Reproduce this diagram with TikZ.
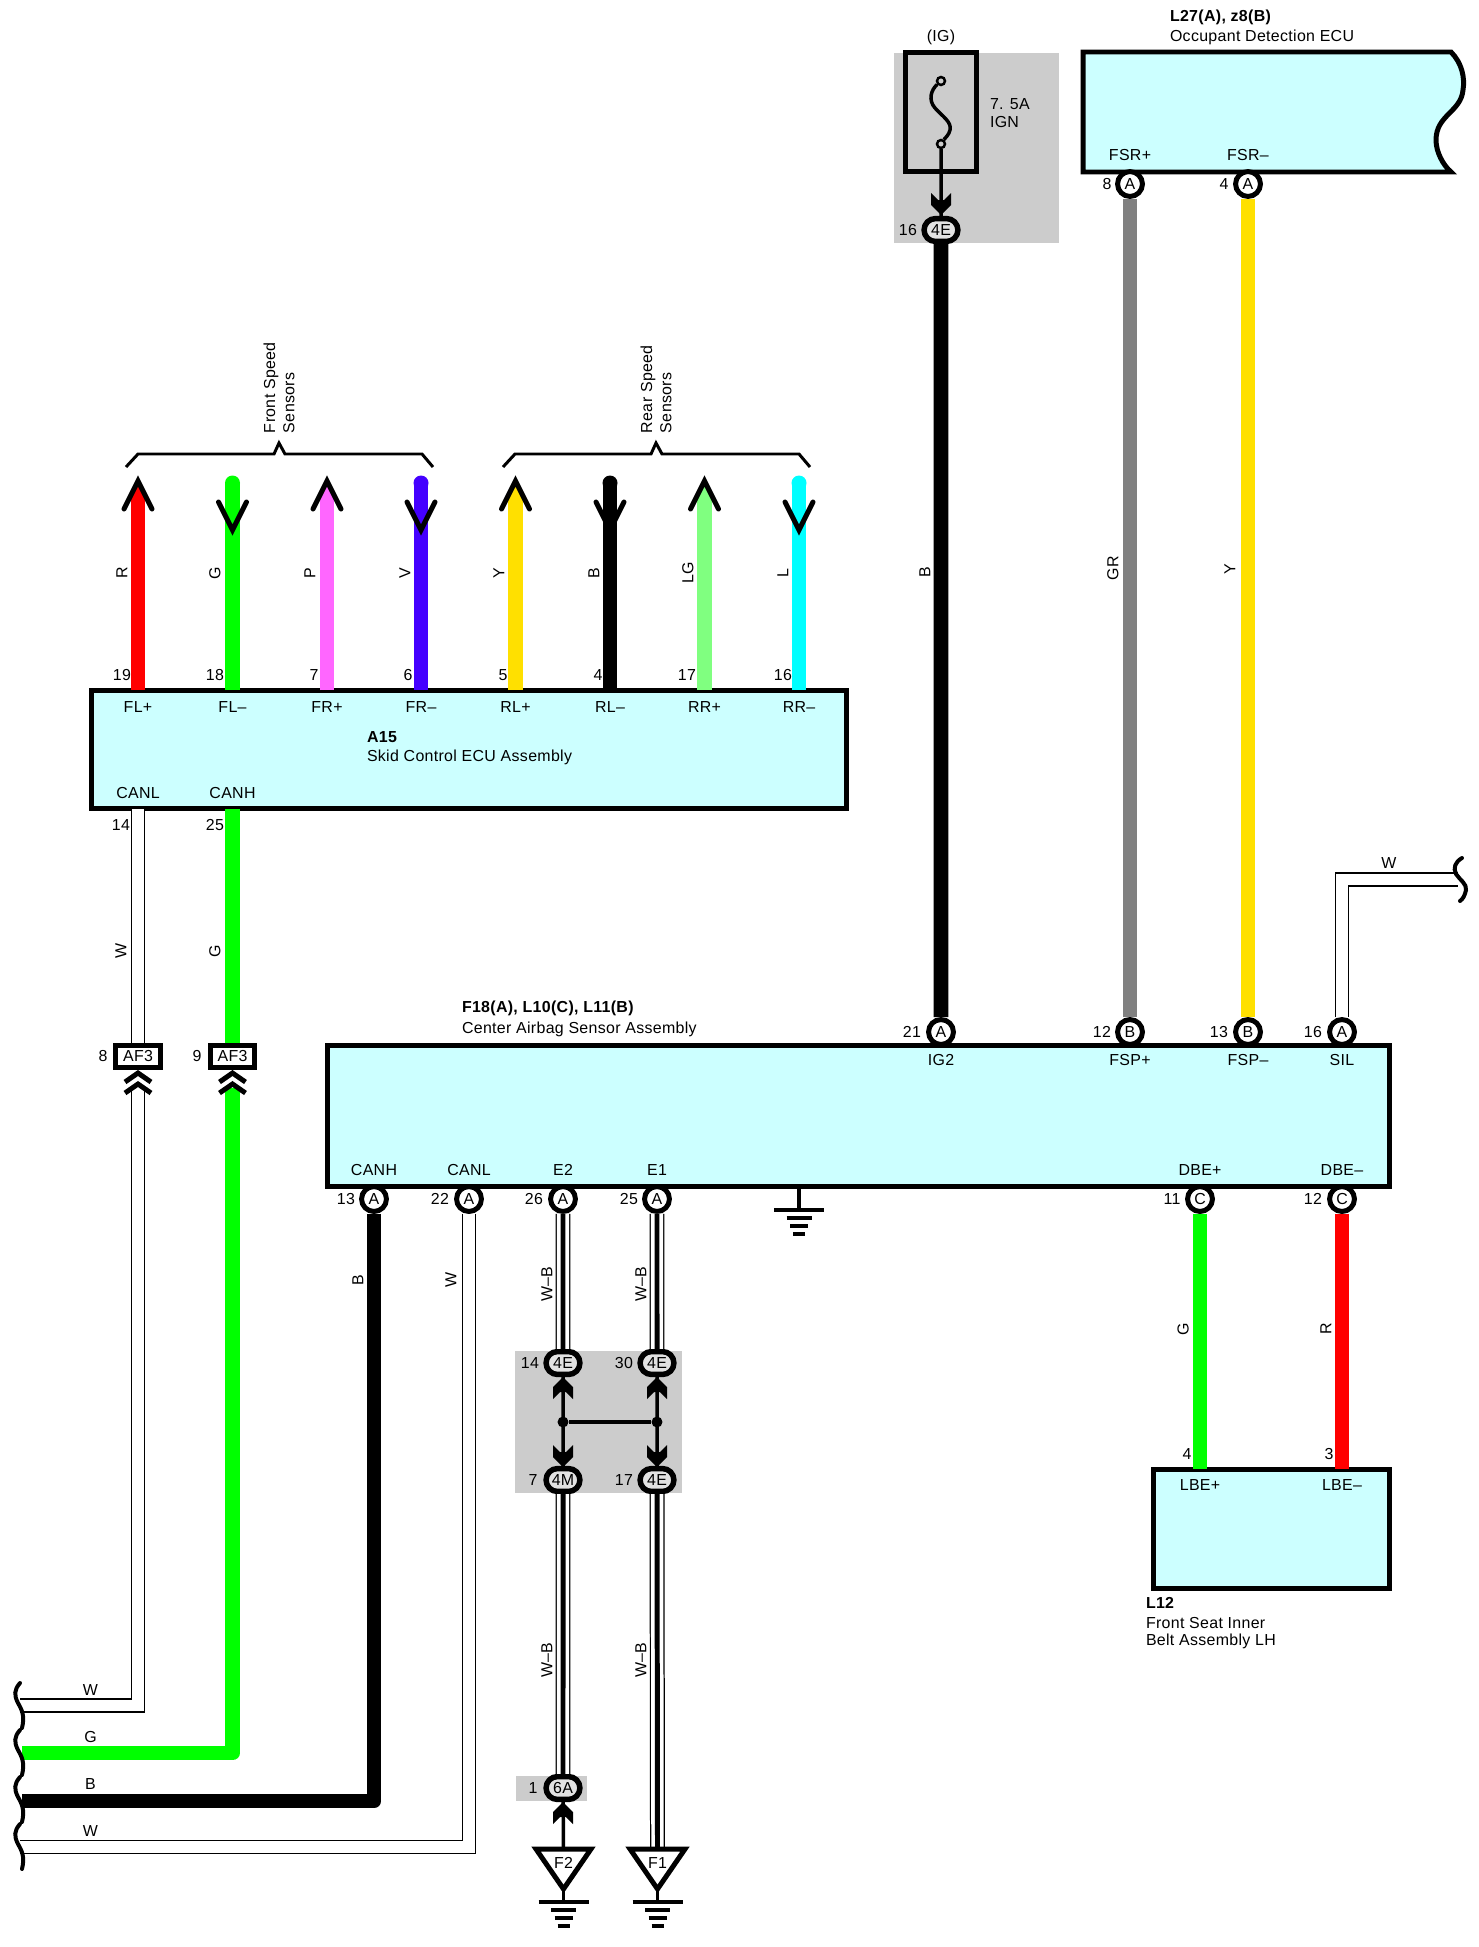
\documentclass[tikz,border=0pt]{standalone}
\usepackage{fontspec}
\setmainfont[LetterSpace=2]{Liberation Sans}
\usetikzlibrary{shapes.misc}

\newcommand{\px}{0.5669pt}
\newcommand{\lab}{\fontsize{9.07}{10.2}\selectfont}

\definecolor{wred}{HTML}{FF0000}
\definecolor{wgreen}{HTML}{00FF00}
\definecolor{wpink}{HTML}{FF66FF}
\definecolor{wviolet}{HTML}{4400FF}
\definecolor{wyellow}{HTML}{FFE000}
\definecolor{wlgreen}{HTML}{80FF80}
\definecolor{wcyan}{HTML}{00FFFF}
\definecolor{wgray}{HTML}{808080}
\definecolor{ecufill}{HTML}{CCFFFF}
\definecolor{areagray}{HTML}{CCCCCC}
\definecolor{ovalfill}{HTML}{E2E2E2}

\tikzset{
  txt/.style={inner sep=0pt,outer sep=0pt},
  wirelab/.style={txt,rotate=90},
  wire/.style={line width=15*\px,line join=round},
  wirew/.style={white,line width=12*\px,preaction={draw=black,line width=14.5*\px}},
  wirewb/.style={black,line width=5*\px,preaction={draw=black,line width=15*\px},preaction={draw=white,line width=12.5*\px}},
  thinw/.style={black,line width=3.5*\px},
  ecubox/.style={draw,fill=ecufill,line width=5*\px,inner sep=0pt},
  pinc/.style={circle,draw,fill=white,line width=5*\px,minimum size=25*\px,inner sep=0pt},
  oval/.style={rounded rectangle,draw,fill=ovalfill,line width=5.5*\px,minimum width=34*\px,minimum height=23*\px,inner sep=0pt},
  dot/.style={circle,fill=black,minimum size=11*\px,inner sep=0pt},
  brace/.style={line width=3*\px,line join=miter},
  squiggle/.style={line width=4*\px,line cap=round},
  % sensor ends
  sensout/.pic={
    \fill[pic actions] (-7.5,16) -- (0,0) -- (7.5,16) -- cycle;
    \draw[line width=5*\px,line cap=round,line join=miter] (-14,28) -- (0,0) -- (14,28);
  },
  sensin/.pic={
    \fill[pic actions] (0,0) circle (7.5);
    \draw[line width=5*\px,line cap=round,line join=miter] (-14,19) -- (0,47) -- (14,19);
  },
  % connector ends
  plugdn/.pic={\fill (0,0) -- (-10,-10) -- (-10,-22) -- (-3,-15) -- (3,-15) -- (10,-22) -- (10,-10) -- cycle;},
  plugup/.pic={\fill (0,0) -- (-10,10) -- (-10,22) -- (-3,15) -- (3,15) -- (10,22) -- (10,10) -- cycle;},
  dblchev/.pic={
    \draw[line width=5*\px] (-13,9) -- (0,0) -- (13,9);
    \draw[line width=5*\px] (-13,20) -- (0,11) -- (13,20);
  },
  gndbars/.pic={
    \draw[line width=3.5*\px] (-25,0) -- (25,0);
    \draw[line width=3.5*\px] (-12.5,8) -- (12.5,8);
    \draw[line width=3.5*\px] (-9,16) -- (9,16);
    \draw[line width=3.5*\px] (-6,24) -- (6,24);
  },
  wavecut/.pic={
    \draw[squiggle] (0,0) .. controls (-6,7) and (-6,12) .. (-2,20) .. controls (2,27) and (5,33) .. (2,45);
  },
}

\begin{document}
\begin{tikzpicture}[x=0.02cm,y=-0.02cm,font=\lab]
\useasboundingbox (0,0) rectangle (1479,1947);

% shaded areas
\fill[areagray] (894,53) rectangle (1059,243);
\fill[areagray] (515,1351) rectangle (682,1493);
\fill[areagray] (516,1776) rectangle (587,1801);

% boxes
\node[ecubox,minimum width=758*\px,minimum height=119*\px] (a15) at (469,749.5) {};
\node[ecubox,minimum width=1066*\px,minimum height=142*\px] (f18) at (858.5,1116) {};
\node[ecubox,minimum width=236*\px,minimum height=119*\px] (l12) at (1271.5,1529) {};
\node[draw,line width=5*\px,minimum width=71.5*\px,minimum height=120*\px,inner sep=0pt] (fuse) at (941,112) {};
\draw[ecubox] (1083,52) -- (1451,52) .. controls (1462,63) and (1465,78) .. (1463,90) .. controls (1461,112) and (1436,115) .. (1436,140) .. controls (1436,152) and (1443,165) .. (1451,172) -- (1083,172) -- cycle;

% pins
\node[pinc] (fsrp) at (1130,184) {A};
\node[pinc] (fsrm) at (1248,184) {A};
\node[pinc] (ig2) at (941,1032) {A};
\node[pinc] (fspp) at (1130,1032) {B};
\node[pinc] (fspm) at (1248,1032) {B};
\node[pinc] (sil) at (1342,1032) {A};
\node[pinc] (canh) at (374,1199) {A};
\node[pinc] (canl) at (469,1199) {A};
\node[pinc] (etwo) at (563,1199) {A};
\node[pinc] (eone) at (657,1199) {A};
\node[pinc] (dbep) at (1200,1199) {C};
\node[pinc] (dbem) at (1342,1199) {C};

% ovals
\node[oval] (ign) at (941,230) {4E};
\node[oval] (oa) at (563,1363) {4E};
\node[oval] (ob) at (657,1363) {4E};
\node[oval] (oc) at (563,1480) {4M};
\node[oval] (od) at (657,1480) {4E};
\node[oval] (oe) at (563,1788) {6A};

% AF3 connectors
\node[draw,fill=white,line width=5*\px,minimum width=45*\px,minimum height=22*\px,inner sep=0pt] (afw) at (138,1056.5) {AF3};
\node[draw,fill=white,line width=5*\px,minimum width=45*\px,minimum height=22*\px,inner sep=0pt] (afg) at (232.5,1056.5) {AF3};

% sensor wires
\coordinate (flp) at (138,690);   \coordinate (flpe) at (138,494);
\coordinate (flm) at (232.5,690); \coordinate (flme) at (232.5,484);
\coordinate (frp) at (327,690);   \coordinate (frpe) at (327,494);
\coordinate (frm) at (421,690);   \coordinate (frme) at (421,484);
\coordinate (rlp) at (515.5,690); \coordinate (rlpe) at (515.5,494);
\coordinate (rlm) at (610,690);   \coordinate (rlme) at (610,484);
\coordinate (rrp) at (704.5,690); \coordinate (rrpe) at (704.5,494);
\coordinate (rrm) at (799,690);   \coordinate (rrme) at (799,484);
\draw[wire,wred] (flp) -- (flpe);
\draw[wire,wgreen] (flm) -- (flme);
\draw[wire,wpink] (frp) -- (frpe);
\draw[wire,wviolet] (frm) -- (frme);
\draw[wire,wyellow] (rlp) -- (rlpe);
\draw[wire,black] (rlm) -- (rlme);
\draw[wire,wlgreen] (rrp) -- (rrpe);
\draw[wire,wcyan] (rrm) -- (rrme);
\pic[fill=wred] at (138,481) {sensout};
\pic[fill=wgreen] at (232.5,483) {sensin};
\pic[fill=wpink] at (327,481) {sensout};
\pic[fill=wviolet] at (421,483) {sensin};
\pic[fill=wyellow] at (515.5,481) {sensout};
\pic[fill=black] at (610,483) {sensin};
\pic[fill=wlgreen] at (704.5,481) {sensout};
\pic[fill=wcyan] at (799,483) {sensin};

% braces
\draw[brace] (126,467) -- (138,454) -- (274,454) -- (279,443) -- (285,454) -- (422,454) -- (433,467);
\draw[brace] (503,467) -- (515,454) -- (651,454) -- (656,443) -- (662,454) -- (799,454) -- (810,467);

% right hand wires
\draw[wire,black] (ign) -- (ig2);
\draw[wire,wgray] (fsrp) -- (fspp);
\draw[wire,wyellow] (fsrm) -- (fspm);
\coordinate (silend) at (1458,879.5);
\draw[wirew] (sil) |- (silend);
\draw[squiggle] (1462,858) .. controls (1455,862) and (1453,868) .. (1456,874) .. controls (1460,880) and (1467,884) .. (1466,890) .. controls (1465,895) and (1463,899) .. (1460,901);

% fuse
\node[circle,draw,fill=areagray,line width=2.5*\px,minimum size=8*\px,inner sep=0pt] (fusea) at (941,81) {};
\node[circle,draw,fill=areagray,line width=2.5*\px,minimum size=8*\px,inner sep=0pt] (fuseb) at (941,144) {};
\draw[line width=3.5*\px] (fusea) .. controls (931,90) and (928,100) .. (935,108) .. controls (942,116) and (952,122) .. (950,130) .. controls (949,135) and (945,138) .. (fuseb);
\draw[thinw] (fuseb) -- (ign);
\pic at (941,215) {plugdn};

% CAN wires from A15
\coordinate (cl) at (138,809);  \coordinate (clb) at (138,1088);
\coordinate (ch) at (232.5,809); \coordinate (chb) at (232.5,1088);
\coordinate (endwa) at (20,1705.5);
\coordinate (endg) at (22,1753);
\coordinate (endb) at (22,1801);
\coordinate (endwb) at (20,1847);
\draw[wirew] (cl) -- (afw);
\draw[wire,wgreen] (ch) -- (afg);
\draw[wirew] (clb) |- (endwa);
\draw[wire,wgreen] (chb) |- (endg);
\draw[wire,black] (canh) |- (endb);
\draw[wirew] (canl) |- (endwb);
\pic at (138,1073) {dblchev};
\pic at (232.5,1073) {dblchev};
\pic at (20,1683) {wavecut};
\pic at (20,1730) {wavecut};
\pic at (20,1777) {wavecut};
\pic at (20,1824) {wavecut};

% ground wires
\coordinate (fa) at (563.5,1849);
\coordinate (fb) at (657.5,1849);
\draw[wirewb] (etwo) -- (oa);
\draw[wirewb] (eone) -- (ob);
\draw[wirewb] (oc) -- (oe);
\draw[wirewb] (od) -- (fb);
\draw[thinw] (oa) -- (oc);
\draw[thinw] (ob) -- (od);
\node[dot] (ja) at (563,1422) {};
\node[dot] (jb) at (657,1422) {};
\draw[thinw] (ja) -- (jb);
\pic at (563,1377) {plugup};
\pic at (657,1377) {plugup};
\pic at (563,1467) {plugdn};
\pic at (657,1467) {plugdn};
\pic at (563,1802) {plugup};
\draw[thinw] (oe) -- (fa);

% F1, F2
\draw[fill=white,line width=5*\px,line join=miter] (536,1849) -- (591,1849) -- (563.5,1889) -- cycle;
\draw[fill=white,line width=5*\px,line join=miter] (630,1849) -- (685,1849) -- (657.5,1889) -- cycle;
\node[txt] (ftwo) at (563.5,1863) {F2};
\node[txt] (fone) at (657.5,1863) {F1};
\draw[line width=3*\px] (563.5,1889) -- (563.5,1902);
\draw[line width=3*\px] (657.5,1889) -- (657.5,1902);
\pic at (563.5,1902) {gndbars};
\pic at (657.5,1902) {gndbars};

% body ground
\draw[line width=3.5*\px] (799,1189) -- (799,1210);
\pic at (799,1210) {gndbars};

% lower right wires
\coordinate (lbp) at (1200,1469);
\coordinate (lbm) at (1342,1469);
\draw[wire,wgreen] (dbep) -- (lbp);
\draw[wire,wred] (dbem) -- (lbm);

% texts: titles
\node[txt,anchor=west,font=\lab\bfseries] (ttla) at (1170,17) {L27(A), z8(B)};
\node[txt,anchor=west] (ttlb) at (1170,37) {Occupant Detection ECU};
\node[txt,anchor=west,font=\lab\bfseries] (ttlc) at (367,737) {A15};
\node[txt,anchor=west] (ttld) at (367,757) {Skid Control ECU Assembly};
\node[txt,anchor=west,font=\lab\bfseries] (ttle) at (462,1008) {F18(A), L10(C), L11(B)};
\node[txt,anchor=west] (ttlf) at (462,1029) {Center Airbag Sensor Assembly};
\node[txt,anchor=west,font=\lab\bfseries] (ttlg) at (1146,1603) {L12};
\node[txt,anchor=west] (ttlh) at (1146,1623) {Front Seat Inner};
\node[txt,anchor=west] (ttli) at (1146,1641) {Belt Assembly LH};
\node[txt] (ig) at (941,37) {(IG)};
\node[txt,anchor=west] (ampa) at (990,104) {7. 5A};
\node[txt,anchor=west] (ampb) at (990,122) {IGN};
\node[txt,rotate=90,anchor=west] (fsa) at (271,433) {Front Speed};
\node[txt,rotate=90,anchor=west] (fsb) at (289,433) {Sensors};
\node[txt,rotate=90,anchor=west] (rsa) at (648,433) {Rear Speed};
\node[txt,rotate=90,anchor=west] (rsb) at (666,433) {Sensors};

% texts: terminals
\node[txt] (tfsrp) at (1130,155) {FSR+};
\node[txt] (tfsrm) at (1248,155) {FSR–};
\node[txt] (tflp) at (138,707) {FL+};
\node[txt] (tflm) at (232.5,707) {FL–};
\node[txt] (tfrp) at (327,707) {FR+};
\node[txt] (tfrm) at (421,707) {FR–};
\node[txt] (trlp) at (515.5,707) {RL+};
\node[txt] (trlm) at (610,707) {RL–};
\node[txt] (trrp) at (704.5,707) {RR+};
\node[txt] (trrm) at (799,707) {RR–};
\node[txt] (tcl) at (138,793) {CANL};
\node[txt] (tch) at (232.5,793) {CANH};
\node[txt] (tig) at (941,1060) {IG2};
\node[txt] (tfpp) at (1130,1060) {FSP+};
\node[txt] (tfpm) at (1248,1060) {FSP–};
\node[txt] (tsil) at (1342,1060) {SIL};
\node[txt] (tcanh) at (374,1170) {CANH};
\node[txt] (tcanl) at (469,1170) {CANL};
\node[txt] (teb) at (563,1170) {E2};
\node[txt] (tea) at (657,1170) {E1};
\node[txt] (tdp) at (1200,1170) {DBE+};
\node[txt] (tdm) at (1342,1170) {DBE–};
\node[txt] (tlp) at (1200,1485) {LBE+};
\node[txt] (tlm) at (1342,1485) {LBE–};

% texts: pin numbers
\node[txt] (na) at (1107,184) {8};
\node[txt] (nb) at (1224,184) {4};
\node[txt] (nc) at (908,230) {16};
\node[txt] (nd) at (122,675) {19};
\node[txt] (ne) at (215,675) {18};
\node[txt] (nf) at (314,675) {7};
\node[txt] (ng) at (408,675) {6};
\node[txt] (nh) at (503,675) {5};
\node[txt] (ni) at (598,675) {4};
\node[txt] (nj) at (687,675) {17};
\node[txt] (nk) at (783,675) {16};
\node[txt] (nl) at (121,825) {14};
\node[txt] (nm) at (215,825) {25};
\node[txt] (nn) at (103,1056) {8};
\node[txt] (no) at (197,1056) {9};
\node[txt] (np) at (912,1032) {21};
\node[txt] (nq) at (1102,1032) {12};
\node[txt] (nr) at (1219,1032) {13};
\node[txt] (ns) at (1313,1032) {16};
\node[txt] (nt) at (346,1199) {13};
\node[txt] (nu) at (440,1199) {22};
\node[txt] (nv) at (534,1199) {26};
\node[txt] (nw) at (629,1199) {25};
\node[txt] (nx) at (1172,1199) {11};
\node[txt] (ny) at (1313,1199) {12};
\node[txt] (nz) at (530,1363) {14};
\node[txt] (naa) at (624,1363) {30};
\node[txt] (nab) at (533,1480) {7};
\node[txt] (nac) at (624,1480) {17};
\node[txt] (nad) at (533,1788) {1};
\node[txt] (nae) at (1187,1454) {4};
\node[txt] (naf) at (1329,1454) {3};

% texts: wire colours
\node[wirelab] (ca) at (122,573) {R};
\node[wirelab] (cb) at (215,573) {G};
\node[wirelab] (cc) at (310,573) {P};
\node[wirelab] (cd) at (405,573) {V};
\node[wirelab] (ce) at (499,573) {Y};
\node[wirelab] (cf) at (594,573) {B};
\node[wirelab] (cg) at (688,573) {LG};
\node[wirelab] (ch2) at (783,573) {L};
\node[wirelab] (ci) at (925,572) {B};
\node[wirelab] (cj) at (1113,568) {GR};
\node[wirelab] (ck) at (1230,569) {Y};
\node[wirelab] (cl2) at (121,951) {W};
\node[wirelab] (cm) at (215,951) {G};
\node[wirelab] (cn) at (358,1280) {B};
\node[wirelab] (co) at (451,1280) {W};
\node[wirelab] (cp) at (547,1284) {W–B};
\node[wirelab] (cq) at (641,1284) {W–B};
\node[wirelab] (cr) at (547,1660) {W–B};
\node[wirelab] (cs) at (641,1660) {W–B};
\node[wirelab] (ct) at (1183,1329) {G};
\node[wirelab] (cu) at (1326,1329) {R};
\node[txt] (cv) at (1389,863) {W};
\node[txt] (cw) at (90.5,1690) {W};
\node[txt] (cx) at (90.5,1737) {G};
\node[txt] (cy) at (90.5,1784) {B};
\node[txt] (cz) at (90.5,1831) {W};

\end{tikzpicture}
\end{document}
